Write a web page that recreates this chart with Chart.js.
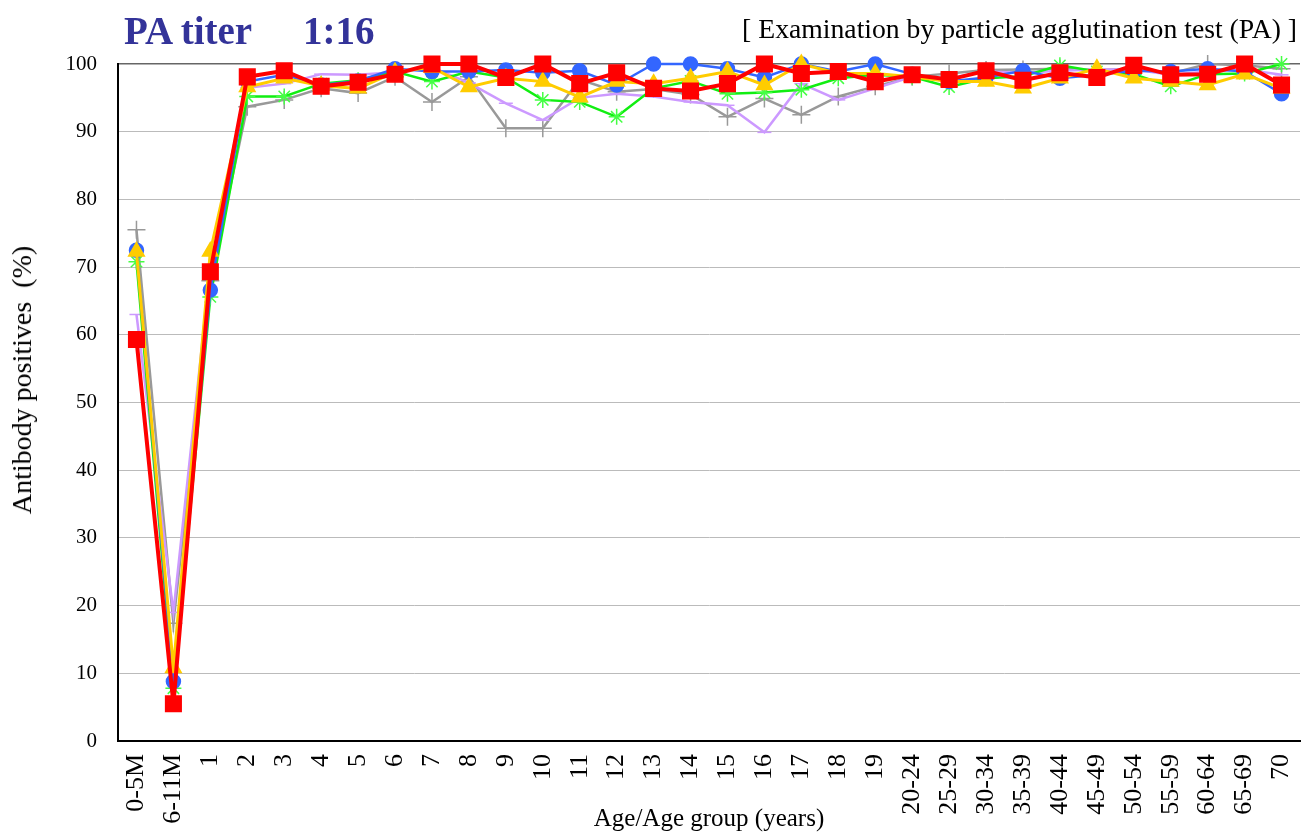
<!DOCTYPE html>
<html><head><meta charset="utf-8">
<script src="https://cdn.jsdelivr.net/npm/chart.js@4.4.1/dist/chart.umd.min.js"></script>
<style>
html,body{margin:0;padding:0;background:#fff;}
#wrap{position:relative;width:1301px;height:834px;overflow:hidden;}
#c{position:absolute;left:0;top:0;}
.t{position:absolute;font-family:"Liberation Serif","Times New Roman",serif;white-space:nowrap;}
#t1{left:124px;top:8px;font-size:39px;font-weight:bold;color:#333399;}
#t2{left:303px;top:8px;font-size:39px;font-weight:bold;color:#333399;}
#t3{right:4px;top:13px;font-size:27.7px;color:#000;}
#ytitle{left:22px;top:380px;font-size:28px;color:#000;transform:translate(-50%,-50%) rotate(-90deg);}
</style></head>
<body>
<div id="wrap">
<canvas id="c" width="1301" height="834"></canvas>
<div class="t" id="t1">PA titer</div>
<div class="t" id="t2">1:16</div>
<div class="t" id="t3">[ Examination by particle agglutination test (PA) ]</div>
<div class="t" id="ytitle">Antibody positives&nbsp;&nbsp;(%)</div>
</div>
<script>
const categories = ['0-5M','6-11M','1','2','3','4','5','6','7','8','9','10','11','12','13','14','15','16','17','18','19','20-24','25-29','30-34','35-39','40-44','45-49','50-54','55-59','60-64','65-69','70'];
const yTicks = [0,10,20,30,40,50,60,70,80,90,100];
const blueSeries   = [72.5, 8.8, 66.6, 97.4, 98.4, 96.9, 97.5, 99.3, 98.9, 98.9, 99.1, 98.7, 99.0, 96.9, 100, 100, 99.3, 98.0, 100, 98.9, 100, 98.5, 97.4, 98.0, 99.0, 97.9, 98.4, 99.0, 98.9, 99.3, 98.9, 95.6];
const graySeries   = [75.5, 17.4, 68.0, 93.7, 94.7, 96.4, 95.7, 98.1, 94.4, 98.1, 90.5, 90.5, 97.7, 95.9, 96.3, 95.5, 92.2, 94.9, 92.5, 95.2, 96.7, 98.1, 98.6, 99.1, 99.2, 99.3, 99.1, 99.3, 98.6, 100, 99.8, 99.3];
const greenSeries  = [70.8, 7.8, 65.6, 95.2, 95.2, 97.1, 97.6, 98.9, 97.4, 98.9, 98.0, 94.7, 94.4, 92.2, 96.4, 97.5, 95.6, 95.8, 96.2, 97.9, 98.4, 98.1, 96.6, 97.9, 98.2, 99.8, 98.9, 98.5, 96.7, 98.5, 98.6, 100];
const purpleSeries = [63.0, 19.0, 70.0, 96.5, 97.1, 98.5, 98.4, 98.8, 99.5, 97.2, 94.2, 91.7, 95.0, 95.6, 95.2, 94.4, 93.9, 89.9, 97.1, 94.7, 96.4, 98.1, 97.9, 98.9, 98.7, 99.0, 99.2, 99.2, 98.4, 98.9, 99.2, 98.4];
const yellowSeries = [72.3, 10.8, 72.3, 96.6, 97.9, 96.8, 96.4, 98.8, 99.5, 96.6, 97.9, 97.4, 95.1, 97.4, 97.1, 97.9, 98.9, 96.9, 100, 98.6, 98.6, 98.1, 97.4, 97.4, 96.4, 97.9, 99.3, 97.9, 97.4, 96.9, 98.5, 96.4];
const redSeries    = [59.3, 5.5, 69.3, 98.1, 99.0, 96.7, 97.3, 98.5, 100, 100, 98.0, 100, 97.1, 98.7, 96.4, 96.0, 97.1, 100, 98.6, 98.9, 97.4, 98.4, 97.7, 99.0, 97.6, 98.7, 98.0, 99.8, 98.4, 98.5, 100, 96.9];

const FONT = '"Liberation Serif","Times New Roman",serif';
function ds(data, color, style, radius, bw, order, extra){
  return Object.assign({data, borderColor:color, backgroundColor:color, pointBackgroundColor:color, pointBorderColor:color,
    pointStyle:style, pointRadius:radius, pointHoverRadius:radius, borderWidth:bw, pointBorderWidth:1.5, tension:0, clip:false, order}, extra||{});
}
new Chart(document.getElementById('c'), {
  type:'line',
  data:{labels:categories, datasets:[
    ds(redSeries,   '#ff0000','rect',11,4,0),
    ds(yellowSeries,'#ffcc00','triangle',9,3,1),
    ds(blueSeries,  '#3366ff','circle',7,2.5,2),
    ds(greenSeries, '#11ee11','star',8,2.5,3,{pointBorderColor:'#44ff44'}),
    ds(purpleSeries,'#cc99ff','line',7,2.5,4),
    ds(graySeries,  '#999999','cross',9,2.5,5)
  ]},
  options:{
    responsive:false, animation:false,
    layout:{autoPadding:false, padding:{top:64,right:1,left:0,bottom:0}},
    plugins:{legend:{display:false}, tooltip:{enabled:false}},
    scales:{
      x:{type:'category', offset:true,
        grid:{display:false, drawTicks:false},
        border:{display:true,color:'#000',width:2},
        ticks:{autoSkip:false, maxRotation:90, minRotation:90, padding:13, color:'#000', font:{family:FONT,size:26}},
        title:{display:true,text:'Age/Age group (years)',color:'#000',font:{family:FONT,size:25},padding:{top:0,bottom:0}},
        afterFit(s){ s.height = 93; s.paddingLeft = 0; s.paddingRight = 0; }
      },
      y:{min:0,max:100,
        afterBuildTicks(s){ s.ticks = yTicks.map(v=>({value:v})); },
        grid:{drawTicks:false, color:(c)=> c.tick && c.tick.value===100 ? '#666' : '#bbb', lineWidth:(c)=> c.tick && c.tick.value===100 ? 1.5 : 1},
        border:{display:true,color:'#000',width:2},
        ticks:{padding:21, color:'#000', font:{family:FONT,size:21}},
        title:{display:false},
        afterFit(s){ s.width = 118; s.paddingTop = 0; s.paddingBottom = 0; }
      }
    }
  }
});
</script>
</body></html>
